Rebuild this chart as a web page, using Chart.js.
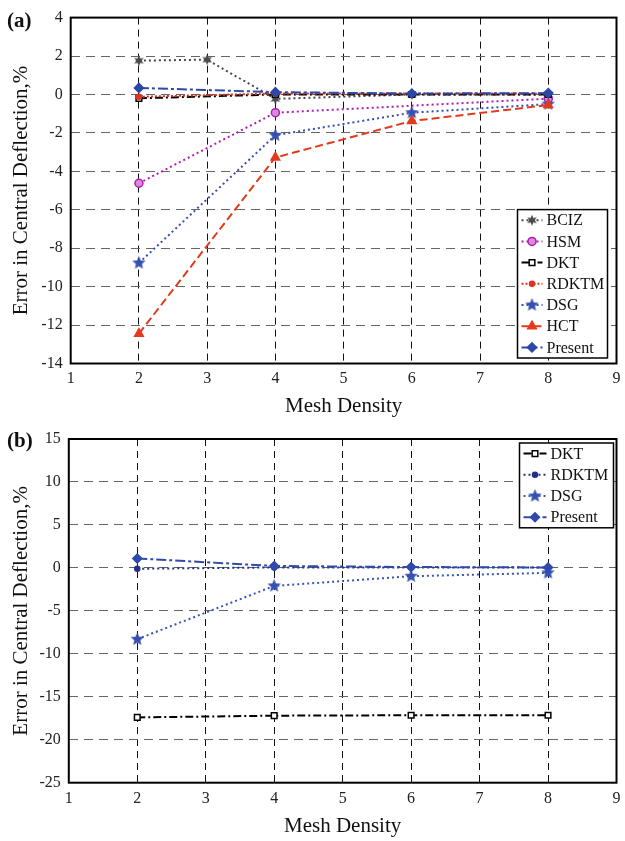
<!DOCTYPE html>
<html>
<head>
<meta charset="utf-8">
<script src="https://cdn.jsdelivr.net/npm/chart.js@4/dist/chart.umd.min.js"></script>
<style>
  body { margin: 0; background: #fff; width: 625px; height: 841px; position: relative; overflow: hidden; }
  .wrap { position: absolute; left: 0; width: 625px; }
  .tag { position: absolute; left: 7px; font: bold 21px "Liberation Serif", serif; color: #111; }
</style>
</head>
<body>
<div class="wrap" style="top:0;height:420px"><canvas id="chartA" width="625" height="420"></canvas></div>
<div class="wrap" style="top:420px;height:421px"><canvas id="chartB" width="625" height="421"></canvas></div>
<div class="tag" style="top:8px">(a)</div>
<div class="tag" style="top:428px">(b)</div>
<script>
// mesh densities where results exist
const meshDensity = [2, 3, 4, 6, 8];
const xTicks = [1, 2, 3, 4, 5, 6, 7, 8, 9];

// (a) error in central deflection, %
const bciz_a    = [1.76, 1.81, -0.23, 0.0, 0.0];
const hsm_a     = [-4.62, null, -0.95, null, -0.22];
const dkt_a     = [-0.2, null, 0.0, 0.0, 0.0];
const rdktm_a   = [-0.12, null, 0.05, 0.05, 0.05];
const dsg_a     = [-8.77, null, -2.12, -0.95, -0.5];
const hct_a     = [-12.45, null, -3.28, -1.38, -0.55];
const present_a = [0.34, null, 0.12, 0.05, 0.07];
const yTicks_a  = [-14, -12, -10, -8, -6, -4, -2, 0, 2, 4];

// (b) error in central deflection, %
const dkt_b     = [-17.4, null, -17.2, -17.15, -17.15];
const rdktm_b   = [-0.1, null, 0.05, 0.05, 0.05];
const dsg_b     = [-8.3, null, -2.1, -0.97, -0.58];
const present_b = [1.1, null, 0.22, 0.1, 0.05];
const yTicks_b  = [-25, -20, -15, -10, -5, 0, 5, 10, 15];

Chart.defaults.font.family = '"Liberation Serif", "Times New Roman", serif';
Chart.defaults.color = '#222';

function starMarker(color, size, points, inner) {
  const c = document.createElement('canvas');
  c.width = c.height = size;
  const g = c.getContext('2d');
  const r = size / 2;
  g.beginPath();
  for (let i = 0; i < points * 2; i++) {
    const rad = i % 2 ? r * inner : r - 0.5;
    const ang = -Math.PI / 2 + i * Math.PI / points;
    g.lineTo(r + rad * Math.cos(ang), r + rad * Math.sin(ang));
  }
  g.closePath();
  g.fillStyle = color;
  g.fill();
  return c;
}

const toPoints = vals => meshDensity
  .map((x, i) => ({ x: x, y: vals[i] }))
  .filter(p => p.y !== null);

function series(label, vals, color, dash, style, radius, fill, order) {
  return {
    label: label,
    data: toPoints(vals),
    borderColor: color,
    borderWidth: 2,
    borderDash: dash,
    pointStyle: style,
    pointRadius: radius,
    pointBorderColor: color,
    pointBackgroundColor: fill,
    pointBorderWidth: 1.5,
    order: order,
    tension: 0
  };
}

// solid box round the plot area
const frame = {
  id: 'frame',
  beforeDatasetsDraw(chart) {
    const { ctx, chartArea: a } = chart;
    ctx.save();
    ctx.setLineDash([]);
    ctx.strokeStyle = '#000';
    ctx.lineWidth = 2;
    ctx.strokeRect(a.left, a.top, a.right - a.left, a.bottom - a.top);
    ctx.restore();
  }
};

// legend drawn inside the axes, in a framed box
const boxLegend = {
  id: 'boxLegend',
  afterDatasetsDraw(chart, args, opts) {
    const { ctx, chartArea: a } = chart;
    const sets = chart.data.datasets;
    const h = sets.length * opts.rowHeight;
    const right = a.right - opts.right;
    const left = right - opts.width;
    const top = opts.top !== undefined ? a.top + opts.top : a.bottom - opts.bottom - h;
    ctx.save();
    ctx.fillStyle = '#fff';
    ctx.fillRect(left, top, opts.width, h);
    ctx.strokeStyle = '#000';
    ctx.lineWidth = 1.5;
    ctx.setLineDash([]);
    ctx.strokeRect(left, top, opts.width, h);
    ctx.font = '16px "Liberation Serif", serif';
    ctx.textBaseline = 'middle';
    sets.forEach((ds, i) => {
      const y = top + opts.rowHeight * (i + 0.5);
      ctx.strokeStyle = ds.borderColor;
      ctx.lineWidth = 2;
      ctx.setLineDash(ds.borderDash);
      ctx.beginPath();
      ctx.moveTo(left + 4, y);
      ctx.lineTo(left + opts.textX - 4, y);
      ctx.stroke();
      ctx.setLineDash([]);
      ctx.fillStyle = ds.pointBackgroundColor;
      ctx.strokeStyle = ds.pointBorderColor;
      ctx.lineWidth = ds.pointBorderWidth;
      Chart.helpers.drawPoint(ctx, {
        pointStyle: ds.pointStyle, radius: ds.pointRadius,
        rotation: 0, borderWidth: ds.pointBorderWidth
      }, left + opts.textX / 2, y);
      ctx.fillStyle = '#111';
      ctx.fillText(ds.label, left + opts.textX, y + 1);
    });
    ctx.restore();
  }
};

function makeChart(id, datasets, yTicks, box, legend) {
  return new Chart(document.getElementById(id), {
    type: 'line',
    data: { datasets: datasets },
    plugins: [frame, boxLegend],
    options: {
      responsive: false,
      animation: false,
      events: [],
      layout: { padding: { left: 0, right: box.padRight, top: box.padTop, bottom: 0 } },
      plugins: {
        legend: { display: false },
        tooltip: { enabled: false },
        boxLegend: legend
      },
      scales: {
        x: {
          type: 'linear',
          min: xTicks[0],
          max: xTicks[xTicks.length - 1],
          afterBuildTicks: s => { s.ticks = xTicks.map(v => ({ value: v })); },
          afterFit: s => { s.height = box.xHeight; s.paddingLeft = 0; s.paddingRight = 0; },
          grid: { color: '#111', lineWidth: 1, drawTicks: false },
          border: { display: false, dash: [7, 5] },
          ticks: { padding: 6, font: { size: 16 }, color: '#222' },
          title: {
            display: true, text: 'Mesh Density', color: '#111',
            font: { size: 21 }, padding: { top: 0, bottom: box.titleBottom }
          }
        },
        y: {
          min: yTicks[0],
          max: yTicks[yTicks.length - 1],
          afterBuildTicks: s => { s.ticks = yTicks.map(v => ({ value: v })); },
          afterFit: s => { s.width = box.yWidth; },
          grid: { color: '#666', lineWidth: 1, drawTicks: false },
          border: { display: false, dash: [9, 6] },
          ticks: { padding: 8, font: { size: 16 }, color: '#222' },
          title: {
            display: true, text: 'Error in Central Deflection,%', color: '#111',
            font: { size: 21 }, padding: { top: 9, bottom: 0 }
          }
        }
      }
    }
  });
}

const blueStar = starMarker('#3550b0', 15, 5, 0.42);
const grayStar = starMarker('#4a4a4a', 12, 6, 0.45);

makeChart('chartA', [
  series('BCIZ', bciz_a, '#474747', [2, 3], grayStar, 5, '#474747', 6),
  series('HSM', hsm_a, '#b21cb2', [2, 3], 'circle', 4, '#d98bd9', 5),
  series('DKT', dkt_a, '#000000', [8, 3, 2, 3], 'rect', 4, '#ffffff', 4),
  series('RDKTM', rdktm_a, '#e2321e', [2, 2], 'circle', 2.5, '#e2321e', 3),
  series('DSG', dsg_a, '#3550b0', [2, 3], blueStar, 7, '#3550b0', 2),
  series('HCT', hct_a, '#e43a1c', [8, 4], 'triangle', 5, '#e43a1c', 1),
  series('Present', present_a, '#2c48a8', [10, 3, 3, 3], 'rectRot', 4.5, '#2c48a8', 0)
], yTicks_a,
  { padTop: 15.7, padRight: 3, xHeight: 56.5, yWidth: 70.7, titleBottom: 1.4 },
  { width: 90, textX: 29, rowHeight: 21.2, right: 9, bottom: 5.5 });

makeChart('chartB', [
  series('DKT', dkt_b, '#000000', [8, 3, 2, 3], 'rect', 4, '#ffffff', 3),
  series('RDKTM', rdktm_b, '#23308a', [2, 3], 'circle', 2.5, '#23308a', 2),
  series('DSG', dsg_b, '#3a55b5', [2, 3], blueStar, 7, '#3a55b5', 1),
  series('Present', present_b, '#2f4aaa', [10, 3, 3, 3], 'rectRot', 4.5, '#2f4aaa', 0)
], yTicks_b,
  { padTop: 19, padRight: 8, xHeight: 58.3, yWidth: 68.8, titleBottom: 2.4 },
  { width: 94, textX: 31, rowHeight: 21.2, right: 3, top: 4 });
</script>
</body>
</html>
